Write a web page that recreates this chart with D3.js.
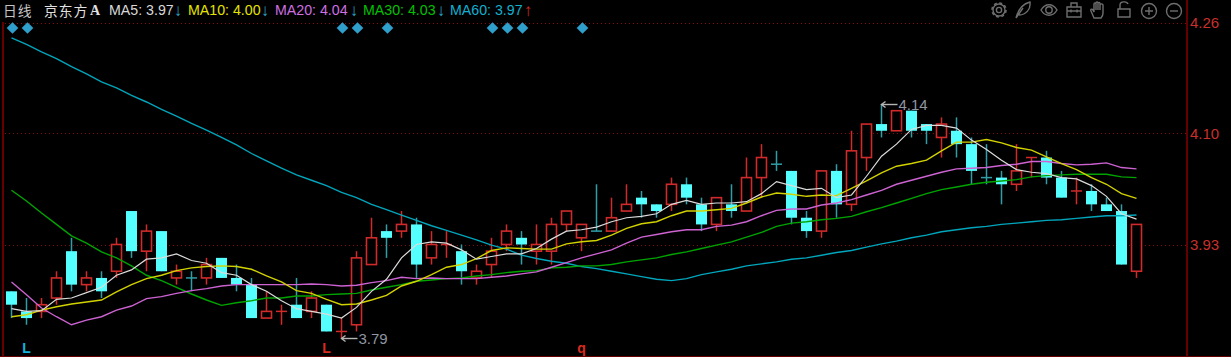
<!DOCTYPE html>
<html>
<head>
<meta charset="utf-8">
<title>京东方A 日线</title>
<script src="https://cdn.jsdelivr.net/npm/d3@7"></script>
<style>
  html, body { margin: 0; padding: 0; background: #000; overflow: hidden; }
  svg { display: block; }
  text { font-family: "Liberation Sans", Arial, sans-serif; }
</style>
</head>
<body>
<svg id="chart" width="1231" height="357"></svg>
<script>
// daily bars, one entry per trading day
const opens = [3.86,3.83,3.83,3.85,3.92,3.87,3.88,3.89,3.98,3.92,3.95,3.88,3.88,3.88,3.91,3.88,3.87,3.82,3.83,3.84,
  3.83,3.84,3.80,3.81,3.90,3.95,3.95,3.96,3.91,3.93,3.92,3.88,3.90,3.93,3.94,3.92,3.92,3.96,3.94,3.95,
  3.95,3.98,4.00,3.99,3.99,4.02,3.99,3.96,3.99,3.98,4.03,4.05,4.04,3.97,3.95,4.04,3.99,4.06,4.11,4.10,
  4.13,4.11,4.09,4.10,4.08,4.03,4.03,4.02,4.06,4.06,4.03,4.01,4.01,3.99,3.98,3.89];
const closes = [3.84,3.82,3.84,3.88,3.87,3.88,3.86,3.93,3.92,3.95,3.89,3.89,3.88,3.90,3.88,3.87,3.82,3.83,3.83,3.82,
  3.85,3.80,3.80,3.91,3.94,3.94,3.96,3.90,3.93,3.93,3.89,3.89,3.92,3.95,3.93,3.93,3.96,3.98,3.96,3.95,
  3.97,3.99,3.99,3.98,4.02,4.00,3.96,4.00,3.98,4.03,4.06,4.05,3.97,3.95,4.04,3.99,4.07,4.11,4.10,4.13,
  4.10,4.10,4.11,4.08,4.04,4.03,4.02,4.04,4.06,4.03,4.00,4.01,3.99,3.98,3.90,3.96];
const highs = [3.86,3.85,3.85,3.89,3.94,3.89,3.89,3.94,3.98,3.96,3.95,3.90,3.89,3.91,3.91,3.90,3.88,3.86,3.84,3.88,
  3.86,3.84,3.82,3.92,3.97,3.96,3.98,3.97,3.95,3.95,3.93,3.90,3.94,3.96,3.95,3.96,3.97,3.98,3.96,4.02,
  4.00,4.02,4.01,3.99,4.03,4.03,4.00,4.00,4.02,4.06,4.08,4.07,4.04,3.98,4.04,4.05,4.10,4.11,4.14,4.13,
  4.13,4.11,4.12,4.12,4.09,4.08,4.04,4.08,4.06,4.07,4.04,4.03,4.02,4.00,3.99,3.96];
const lows = [3.82,3.81,3.82,3.84,3.86,3.86,3.85,3.88,3.91,3.89,3.89,3.87,3.86,3.87,3.88,3.86,3.82,3.82,3.81,3.82,
  3.82,3.80,3.79,3.80,3.90,3.91,3.94,3.88,3.90,3.91,3.87,3.87,3.88,3.92,3.90,3.90,3.90,3.95,3.92,3.95,
  3.95,3.98,3.97,3.97,3.98,3.99,3.95,3.95,3.97,3.98,4.00,4.04,3.96,3.94,3.94,3.97,3.98,4.04,4.09,4.10,
  4.09,4.08,4.06,4.06,4.02,4.02,3.99,4.01,4.03,4.02,4.00,3.99,3.98,3.98,3.90,3.88];

const ma5 = [3.834,3.830,3.831,3.848,3.850,3.858,3.866,3.884,3.892,3.908,3.910,3.916,3.906,3.902,3.888,3.884,3.870,3.860,3.846,3.834,
  3.830,3.826,3.820,3.836,3.860,3.878,3.910,3.930,3.934,3.932,3.922,3.908,3.912,3.916,3.916,3.924,3.938,3.950,3.952,3.956,
  3.964,3.970,3.972,3.976,3.990,3.996,3.990,3.992,3.992,3.994,4.006,4.024,4.018,4.012,4.014,4.000,4.004,4.032,4.062,4.080,
  4.102,4.108,4.108,4.104,4.086,4.072,4.056,4.042,4.038,4.036,4.030,4.028,4.018,4.002,3.976,3.968];
const ma10 = [3.822,3.825,3.832,3.837,3.841,3.844,3.847,3.859,3.870,3.879,3.884,3.891,3.895,3.897,3.898,3.897,3.893,3.883,3.874,3.861,
  3.857,3.848,3.840,3.841,3.847,3.854,3.868,3.875,3.885,3.896,3.900,3.909,3.921,3.925,3.924,3.923,3.923,3.931,3.934,3.936,
  3.944,3.954,3.961,3.964,3.973,3.980,3.980,3.982,3.984,3.992,4.001,4.007,4.005,4.002,4.004,4.003,4.014,4.025,4.037,4.047,
  4.051,4.056,4.070,4.083,4.083,4.087,4.082,4.075,4.071,4.061,4.051,4.042,4.030,4.020,4.006,3.999];
const ma20 = [3.874,3.855,3.835,3.822,3.810,3.817,3.822,3.832,3.838,3.849,3.852,3.857,3.861,3.864,3.868,3.870,3.870,3.870,3.870,3.870,
  3.871,3.870,3.868,3.869,3.873,3.876,3.881,3.879,3.880,3.879,3.879,3.879,3.881,3.883,3.886,3.889,3.896,3.903,3.910,3.916,
  3.922,3.932,3.941,3.945,3.949,3.952,3.952,3.957,3.959,3.964,3.973,3.981,3.983,3.983,3.989,3.992,3.997,4.004,4.011,4.020,
  4.026,4.032,4.038,4.043,4.044,4.045,4.048,4.050,4.054,4.054,4.051,4.049,4.050,4.052,4.045,4.043];
const ma30 = [4.011,3.995,3.977,3.960,3.943,3.932,3.919,3.910,3.898,3.884,3.876,3.866,3.856,3.847,3.839,3.843,3.846,3.850,3.850,3.853,
  3.853,3.855,3.856,3.857,3.862,3.866,3.870,3.875,3.877,3.879,3.880,3.883,3.885,3.888,3.890,3.891,3.895,3.896,3.898,3.898,
  3.900,3.904,3.907,3.910,3.915,3.919,3.924,3.929,3.934,3.941,3.948,3.957,3.962,3.964,3.967,3.969,3.972,3.979,3.985,3.992,
  3.999,4.006,4.012,4.016,4.020,4.023,4.025,4.027,4.031,4.033,4.034,4.035,4.035,4.035,4.031,4.030];
const ma60 = [4.239,4.229,4.218,4.208,4.196,4.185,4.173,4.164,4.153,4.143,4.132,4.122,4.111,4.101,4.090,4.079,4.066,4.055,4.044,4.034,
  4.026,4.018,4.008,4.000,3.990,3.982,3.974,3.966,3.958,3.951,3.944,3.937,3.929,3.923,3.914,3.909,3.905,3.902,3.897,3.894,
  3.890,3.886,3.882,3.878,3.876,3.879,3.885,3.889,3.893,3.898,3.901,3.904,3.908,3.910,3.914,3.918,3.921,3.926,3.931,3.935,
  3.940,3.944,3.949,3.952,3.955,3.957,3.960,3.962,3.964,3.966,3.967,3.969,3.971,3.973,3.973,3.974];

const priceTicks = [4.261, 4.096, 3.929];
const signalDays = [0, 1, 22, 23, 25, 32, 33, 34, 38];
const bottomMarks = [["L", 1, "#12b4dc"], ["L", 21, "#d82a1e"], ["q", 38, "#d82a1e"]];
const days = d3.range(opens.length);

const legendItems = [
  ["MA5: 3.97", 109, "#d8d8d8", "↓", 178, "#2aa8c8"],
  ["MA10: 4.00", 188, "#e4e400", "↓", 265, "#2aa8c8"],
  ["MA20: 4.04", 275, "#cf6fe0", "↓", 354, "#2aa8c8"],
  ["MA30: 4.03", 363, "#00c000", "↓", 441, "#2aa8c8"],
  ["MA60: 3.97", 450, "#12b0d0", "↑", 528, "#d82a1e"]
];

const svg = d3.select("#chart");
const gridRed = "#8c0808", axisRed = "#640000";
const up = "#d02a2a", down = "#55ffff", wickDown = "#2f9ea6";

svg.append("rect").attr("width", 1231).attr("height", 357).attr("fill", "#000");

const xScale = d3.scaleBand().domain(days).range([4, 1144]);
const cx = (i) => xScale(i) + xScale.bandwidth() / 2;
const yScale = d3.scaleLinear().domain([4.14, 3.79]).range([104, 338.15]);

// dotted price grid and the chart frame
svg.selectAll("line.grid")
  .data(priceTicks)
  .enter()
  .append("line")
  .attr("class", "grid")
  .attr("x1", 5)
  .attr("x2", 1186)
  .attr("y1", (d) => Math.round(yScale(d)) + 0.5)
  .attr("y2", (d) => Math.round(yScale(d)) + 0.5)
  .attr("stroke", gridRed)
  .attr("stroke-dasharray", "1,3");

svg.append("line").attr("x1", 3).attr("x2", 3).attr("y1", 22).attr("y2", 357)
  .attr("stroke", axisRed).attr("stroke-width", 2);
svg.append("line").attr("x1", 1187).attr("x2", 1187).attr("y1", 0).attr("y2", 357)
  .attr("stroke", axisRed).attr("stroke-width", 2);
svg.append("line").attr("x1", 0).attr("x2", 1231).attr("y1", 356.5).attr("y2", 356.5)
  .attr("stroke", axisRed);

// price axis on the right
const yAxis = d3.axisRight(yScale)
  .tickValues(priceTicks)
  .tickSize(0)
  .tickPadding(3)
  .tickFormat((d) => d.toFixed(2));

const axisG = svg.append("g")
  .attr("transform", "translate(1187,0)")
  .call(yAxis);
axisG.select(".domain").remove();
axisG.selectAll("text")
  .attr("font-size", 15)
  .attr("fill", "#c8302c")
  .style("font-family", '"Liberation Sans", Arial, sans-serif');

// signal diamonds under the header
svg.selectAll("path.signal")
  .data(signalDays)
  .enter()
  .append("path")
  .attr("class", "signal")
  .attr("d", d3.symbol(d3.symbolSquare, 68))
  .attr("transform", (d) => "translate(" + (cx(d) + 1) + ",28) rotate(45)")
  .attr("fill", "#2f9fcb");

// candles
function isUp(i) {
  if (closes[i] !== opens[i]) return closes[i] > opens[i];
  return i === 0 || closes[i] >= closes[i - 1];
}

const candles = svg.append("g").selectAll("g")
  .data(days)
  .enter()
  .append("g");

candles.append("line")
  .attr("x1", cx)
  .attr("x2", cx)
  .attr("y1", (i) => yScale(highs[i]))
  .attr("y2", (i) => yScale(lows[i]))
  .attr("stroke", (i) => isUp(i) ? up : wickDown)
  .attr("stroke-width", 1.5);

candles.filter((i) => opens[i] === closes[i])
  .append("line")
  .attr("x1", (i) => cx(i) - 5.5)
  .attr("x2", (i) => cx(i) + 5.5)
  .attr("y1", (i) => yScale(opens[i]))
  .attr("y2", (i) => yScale(opens[i]))
  .attr("stroke", (i) => isUp(i) ? up : wickDown)
  .attr("stroke-width", 1.5);

candles.filter((i) => opens[i] > closes[i])
  .append("rect")
  .attr("x", (i) => cx(i) - 5.5)
  .attr("width", 11)
  .attr("y", (i) => yScale(opens[i]))
  .attr("height", (i) => yScale(closes[i]) - yScale(opens[i]))
  .attr("fill", down);

candles.filter((i) => opens[i] < closes[i])
  .append("rect")
  .attr("x", (i) => cx(i) - 5)
  .attr("width", 10)
  .attr("y", (i) => yScale(closes[i]))
  .attr("height", (i) => yScale(opens[i]) - yScale(closes[i]))
  .attr("fill", "#000")
  .attr("stroke", up)
  .attr("stroke-width", 1.6);

// moving averages, thin white one on top
const maLine = d3.line().x((d, i) => cx(i)).y((d) => yScale(d));

[[ma60, "#00a6bc", 1.4], [ma30, "#00a400", 1.4], [ma20, "#cd62d2", 1.4], [ma10, "#d2d200", 1.4], [ma5, "#dcdcdc", 1.2]].forEach((s) => {
  svg.append("path")
    .attr("d", maLine(s[0]))
    .attr("fill", "none")
    .attr("stroke", s[1])
    .attr("stroke-width", s[2]);
});

// high and low callouts
function callout(day, value) {
  const xs = cx(day), ys = Math.round(yScale(value)) + 0.5;
  svg.append("line").attr("x1", xs).attr("x2", xs + 16).attr("y1", ys).attr("y2", ys)
    .attr("stroke", "#b4b4b4").attr("stroke-width", 1.4);
  svg.append("path")
    .attr("d", d3.line()([[xs + 4, ys - 3], [xs, ys], [xs + 4, ys + 3]]))
    .attr("fill", "none")
    .attr("stroke", "#b4b4b4")
    .attr("stroke-width", 1.4);
  svg.append("text")
    .attr("x", xs + 17)
    .attr("y", ys + 5.5)
    .attr("font-size", 15)
    .attr("fill", "#8f96a0")
    .text(value.toFixed(2));
}
callout(58, d3.max(highs));
callout(22, d3.min(lows));

// letters along the bottom
svg.selectAll("text.mark")
  .data(bottomMarks)
  .enter()
  .append("text")
  .attr("class", "mark")
  .attr("x", (d) => cx(d[1]))
  .attr("y", 353)
  .attr("text-anchor", "middle")
  .attr("font-size", 14)
  .attr("font-weight", "bold")
  .attr("fill", (d) => d[2])
  .text((d) => d[0]);

// header
const cjk = '"Noto Sans CJK SC", sans-serif';
svg.append("text").attr("x", 3).attr("y", 16).attr("font-size", 13.8).attr("letter-spacing", 0.9)
  .style("font-family", cjk).attr("fill", "#c4c4c4").text("日线");
svg.append("text").attr("x", 44).attr("y", 16).attr("font-size", 13.8).attr("letter-spacing", 0.9)
  .style("font-family", cjk).attr("fill", "#e0e0e0").text("京东方");
svg.append("text").attr("x", 90).attr("y", 15).attr("font-size", 14)
  .style("font-family", '"Liberation Serif", serif').attr("font-weight", "bold").attr("fill", "#e0e0e0").text("A");

legendItems.forEach((d) => {
  svg.append("text").attr("x", d[1]).attr("y", 15).attr("font-size", 14.2).attr("fill", d[2]).text(d[0]);
  svg.append("text").attr("x", d[4]).attr("y", 16).attr("font-size", 17).attr("text-anchor", "middle")
    .attr("fill", d[5]).text(d[3]);
});

// toolbar icons
const icons = svg.append("g")
  .attr("fill", "none")
  .attr("stroke", "#6e6e6e")
  .attr("stroke-width", 1.4);

icons.append("circle").attr("cx", 999).attr("cy", 10).attr("r", 2.6);
icons.append("circle").attr("cx", 999).attr("cy", 10).attr("r", 6);
icons.append("circle").attr("cx", 999).attr("cy", 10).attr("r", 7)
  .attr("stroke-width", 1.6).attr("stroke-dasharray", "3,2.5");
icons.append("path").attr("d", "M1016 18 C1018 10 1022 4 1030 2 C1031 9 1026 15 1019 15 M1016 18 L1023 8");
icons.append("path").attr("d", "M1041 10 C1045 3 1053 3 1057 10 C1053 17 1045 17 1041 10 Z");
icons.append("circle").attr("cx", 1049).attr("cy", 10).attr("r", 3.2);
icons.append("path").attr("d", "M1067 7 H1081 V17 H1067 Z M1071 7 V3 H1077 V7 M1067 11 H1081 M1071 9.5 V12.5 M1077 9.5 V12.5");
icons.append("path").attr("d", "M1094 18 L1091 11 C1090 9 1092 8.500 1093 10 L1094 12 V4 C1094 2.500 1096 2.500 1096 4 V10 V3 C1096 1.500 1098 1.500 1098 3 V10 V3.500 C1098 2 1100 2 1100 3.500 V10 V5 C1100 3.500 1103 3.500 1103 5 V13 C1103 16 1102 17 1101 18 Z");
icons.append("path").attr("d", "M1118 9 H1130 V17 H1118 Z M1120 9 V5 C1120 1 1127 1 1128 4");
icons.append("circle").attr("cx", 1149).attr("cy", 11).attr("r", 7.5);
icons.append("path").attr("d", "M1145 11 H1153 M1149 7 V15");
icons.append("circle").attr("cx", 1174).attr("cy", 11).attr("r", 7.5);
icons.append("path").attr("d", "M1170 11 H1178");
</script>
</body>
</html>
